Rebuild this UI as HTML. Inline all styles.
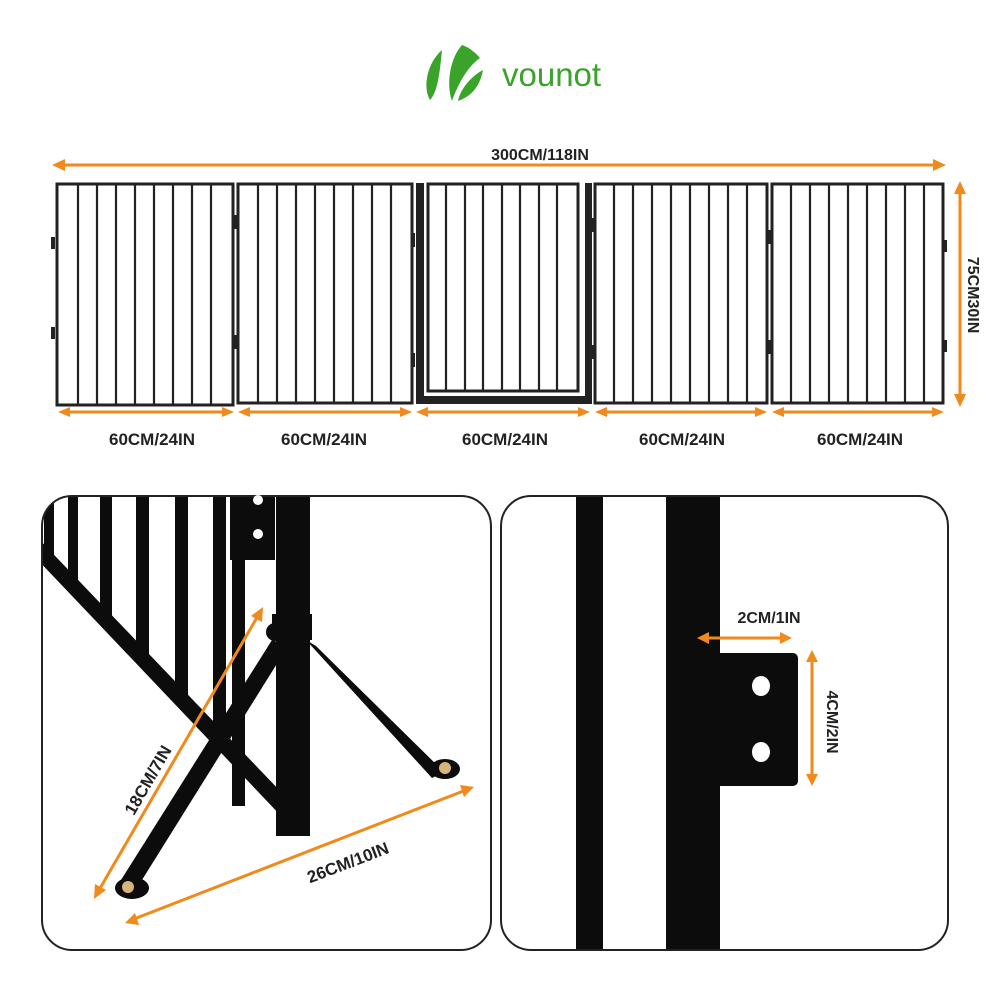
<!DOCTYPE html>
<html><head><meta charset="utf-8"><style>
html,body{margin:0;padding:0;background:#fff}
svg{display:block}
text{font-family:"Liberation Sans",sans-serif;font-weight:bold;fill:#222}
</style></head><body>
<svg width="1000" height="1000" viewBox="0 0 1000 1000" xmlns="http://www.w3.org/2000/svg">
<defs>
<clipPath id="lc"><rect x="42" y="496" width="449" height="454" rx="30"/></clipPath>
<clipPath id="rc"><rect x="501" y="496" width="447" height="454" rx="30"/></clipPath>
</defs>
<!-- logo -->
<path d="M442 50 C428 62 422 86 430 100 C438 92 440 70 442 50Z" fill="#3aa32a"/>
<path d="M462 45 C450 58 446 84 452 101 C458 84 468 66 480 58 C474 51 468 47 462 45Z" fill="#3aa32a"/>
<path d="M483 70 C470 77 460 90 458 101 C472 96 480 86 483 70Z" fill="#3aa32a"/>
<text x="502" y="86" style="font-weight:normal;fill:#3aa32a;font-size:33px">vounot</text>

<!-- top dimension -->
<g stroke="#f08a1c" stroke-width="3" fill="#f08a1c">
<line x1="60" y1="165" x2="938" y2="165"/>
<polygon points="52,165 65,159 65,171" stroke="none"/>
<polygon points="946,165 933,159 933,171" stroke="none"/>
<line x1="960" y1="190" x2="960" y2="398"/>
<polygon points="960,181 954,194 966,194" stroke="none"/>
<polygon points="960,407 954,394 966,394" stroke="none"/>
</g>
<text x="540" y="160" text-anchor="middle" font-size="16">300CM/118IN</text>
<text transform="translate(968,295) rotate(90)" text-anchor="middle" font-size="16">75CM30IN</text>

<!-- panels -->
<g fill="none" stroke="#222" stroke-width="3">
<rect x="57" y="184" width="176" height="221"/>
<rect x="238" y="184" width="174" height="219"/>
<rect x="595" y="184" width="172" height="219"/>
<rect x="772" y="184" width="171" height="219"/>
<rect x="428" y="184" width="150" height="207" stroke-width="3"/>
</g>
<g stroke="#222" stroke-width="2.2">
<line x1="78" y1="185" x2="78" y2="404"/><line x1="97" y1="185" x2="97" y2="404"/><line x1="116" y1="185" x2="116" y2="404"/><line x1="135" y1="185" x2="135" y2="404"/><line x1="154" y1="185" x2="154" y2="404"/><line x1="173" y1="185" x2="173" y2="404"/><line x1="192" y1="185" x2="192" y2="404"/><line x1="211" y1="185" x2="211" y2="404"/>
<line x1="258" y1="185" x2="258" y2="402"/><line x1="277" y1="185" x2="277" y2="402"/><line x1="296" y1="185" x2="296" y2="402"/><line x1="315" y1="185" x2="315" y2="402"/><line x1="334" y1="185" x2="334" y2="402"/><line x1="353" y1="185" x2="353" y2="402"/><line x1="372" y1="185" x2="372" y2="402"/><line x1="391" y1="185" x2="391" y2="402"/>
<line x1="446" y1="185" x2="446" y2="390"/><line x1="465" y1="185" x2="465" y2="390"/><line x1="483" y1="185" x2="483" y2="390"/><line x1="502" y1="185" x2="502" y2="390"/><line x1="520" y1="185" x2="520" y2="390"/><line x1="539" y1="185" x2="539" y2="390"/><line x1="557" y1="185" x2="557" y2="390"/>
<line x1="614" y1="185" x2="614" y2="402"/><line x1="633" y1="185" x2="633" y2="402"/><line x1="652" y1="185" x2="652" y2="402"/><line x1="671" y1="185" x2="671" y2="402"/><line x1="690" y1="185" x2="690" y2="402"/><line x1="709" y1="185" x2="709" y2="402"/><line x1="728" y1="185" x2="728" y2="402"/><line x1="747" y1="185" x2="747" y2="402"/>
<line x1="791" y1="185" x2="791" y2="402"/><line x1="810" y1="185" x2="810" y2="402"/><line x1="829" y1="185" x2="829" y2="402"/><line x1="848" y1="185" x2="848" y2="402"/><line x1="867" y1="185" x2="867" y2="402"/><line x1="886" y1="185" x2="886" y2="402"/><line x1="905" y1="185" x2="905" y2="402"/><line x1="924" y1="185" x2="924" y2="402"/>
</g>
<g fill="#222">
<rect x="416" y="183" width="8" height="221"/>
<rect x="585" y="183" width="7" height="221"/>
<rect x="416" y="396" width="176" height="8"/>
<rect x="51" y="237" width="4" height="12"/><rect x="51" y="327" width="4" height="12"/>
<rect x="233" y="215" width="4" height="14"/><rect x="233" y="335" width="4" height="14"/>
<rect x="411" y="233" width="4" height="14"/><rect x="411" y="353" width="4" height="14"/>
<rect x="590" y="218" width="4" height="14"/><rect x="590" y="345" width="4" height="14"/>
<rect x="767" y="230" width="4" height="14"/><rect x="767" y="340" width="4" height="14"/>
<rect x="943" y="240" width="4" height="12"/><rect x="943" y="340" width="4" height="12"/>
</g>

<!-- panel dims -->
<g stroke="#f08a1c" stroke-width="3" fill="#f08a1c">
<line x1="66" y1="412" x2="226" y2="412"/><polygon points="58,412 70,407 70,417" stroke="none"/><polygon points="234,412 222,407 222,417" stroke="none"/>
<line x1="246" y1="412" x2="404" y2="412"/><polygon points="238,412 250,407 250,417" stroke="none"/><polygon points="412,412 400,407 400,417" stroke="none"/>
<line x1="424" y1="412" x2="582" y2="412"/><polygon points="416,412 428,407 428,417" stroke="none"/><polygon points="590,412 578,407 578,417" stroke="none"/>
<line x1="603" y1="412" x2="759" y2="412"/><polygon points="595,412 607,407 607,417" stroke="none"/><polygon points="767,412 755,407 755,417" stroke="none"/>
<line x1="780" y1="412" x2="936" y2="412"/><polygon points="772,412 784,407 784,417" stroke="none"/><polygon points="944,412 932,407 932,417" stroke="none"/>
</g>
<g font-size="17" text-anchor="middle">
<text x="152" y="445">60CM/24IN</text><text x="324" y="445">60CM/24IN</text><text x="505" y="445">60CM/24IN</text><text x="682" y="445">60CM/24IN</text><text x="860" y="445">60CM/24IN</text>
</g>

<!-- left detail box -->
<rect x="42" y="496" width="449" height="454" rx="30" fill="#fff"/>
<g fill="#0c0c0c" clip-path="url(#lc)">
<polygon points="44,496 54,496 54,560 44,550"/>
<polygon points="68,496 78,496 78,586 68,576"/>
<polygon points="100,496 112,496 112,620 100,607"/>
<polygon points="136,496 149,496 149,658 136,644"/>
<polygon points="175,496 188,496 188,698 175,684"/>
<polygon points="213,496 226,496 226,738 213,724"/>
<polygon points="36,536 36,558 283,818 283,794"/>
<rect x="230" y="496" width="45" height="64"/>
<rect x="232" y="496" width="13" height="310"/>
<rect x="276" y="496" width="34" height="340"/>
<rect x="272" y="614" width="40" height="26"/>
<polygon points="272,640 288,646 132,896 116,888"/>
<polygon points="306,640 316,646 444,772 432,778"/>
<circle cx="275" cy="632" r="9"/>
<ellipse cx="132" cy="888" rx="17" ry="11"/>
<ellipse cx="445" cy="769" rx="15" ry="10"/>
</g>
<rect x="42" y="496" width="449" height="454" rx="30" fill="none" stroke="#222" stroke-width="2"/>
<circle cx="258" cy="500" r="5" fill="#fff"/><circle cx="258" cy="534" r="5" fill="#fff"/>
<circle cx="128" cy="887" r="6" fill="#d8b67a"/><circle cx="445" cy="768" r="6" fill="#d8b67a"/>
<g stroke="#f08a1c" stroke-width="3" fill="#f08a1c">
<line x1="99" y1="890" x2="259" y2="614"/>
<polygon points="94,899 95,884 106,890" stroke="none"/>
<polygon points="263,607 262,622 251,616" stroke="none"/>
<line x1="134" y1="919" x2="466" y2="790"/>
<polygon points="125,923 135,913 139,925" stroke="none"/>
<polygon points="474,787 464,797 460,785" stroke="none"/>
</g>
<text transform="translate(153,783) rotate(-60)" text-anchor="middle" font-size="17">18CM/7IN</text>
<text transform="translate(350,868) rotate(-21)" text-anchor="middle" font-size="17">26CM/10IN</text>

<!-- right detail box -->
<rect x="501" y="496" width="447" height="454" rx="30" fill="#fff"/>
<g clip-path="url(#rc)">
<rect x="576" y="496" width="27" height="454" fill="#0c0c0c"/>
<rect x="666" y="496" width="54" height="454" fill="#0c0c0c"/>
</g>
<rect x="501" y="496" width="447" height="454" rx="30" fill="none" stroke="#222" stroke-width="2"/>
<rect x="703" y="653" width="95" height="133" rx="5" fill="#0c0c0c"/>
<ellipse cx="761" cy="686" rx="9" ry="10" fill="#fff"/>
<ellipse cx="761" cy="752" rx="9" ry="10" fill="#fff"/>
<g stroke="#f08a1c" stroke-width="3" fill="#f08a1c">
<line x1="705" y1="638" x2="784" y2="638"/>
<polygon points="697,638 709,632 709,644" stroke="none"/>
<polygon points="792,638 780,632 780,644" stroke="none"/>
<line x1="812" y1="658" x2="812" y2="777"/>
<polygon points="812,650 806,662 818,662" stroke="none"/>
<polygon points="812,786 806,774 818,774" stroke="none"/>
</g>
<text x="769" y="623" text-anchor="middle" font-size="16">2CM/1IN</text>
<text transform="translate(827,722) rotate(90)" text-anchor="middle" font-size="16">4CM/2IN</text>
</svg>
</body></html>
